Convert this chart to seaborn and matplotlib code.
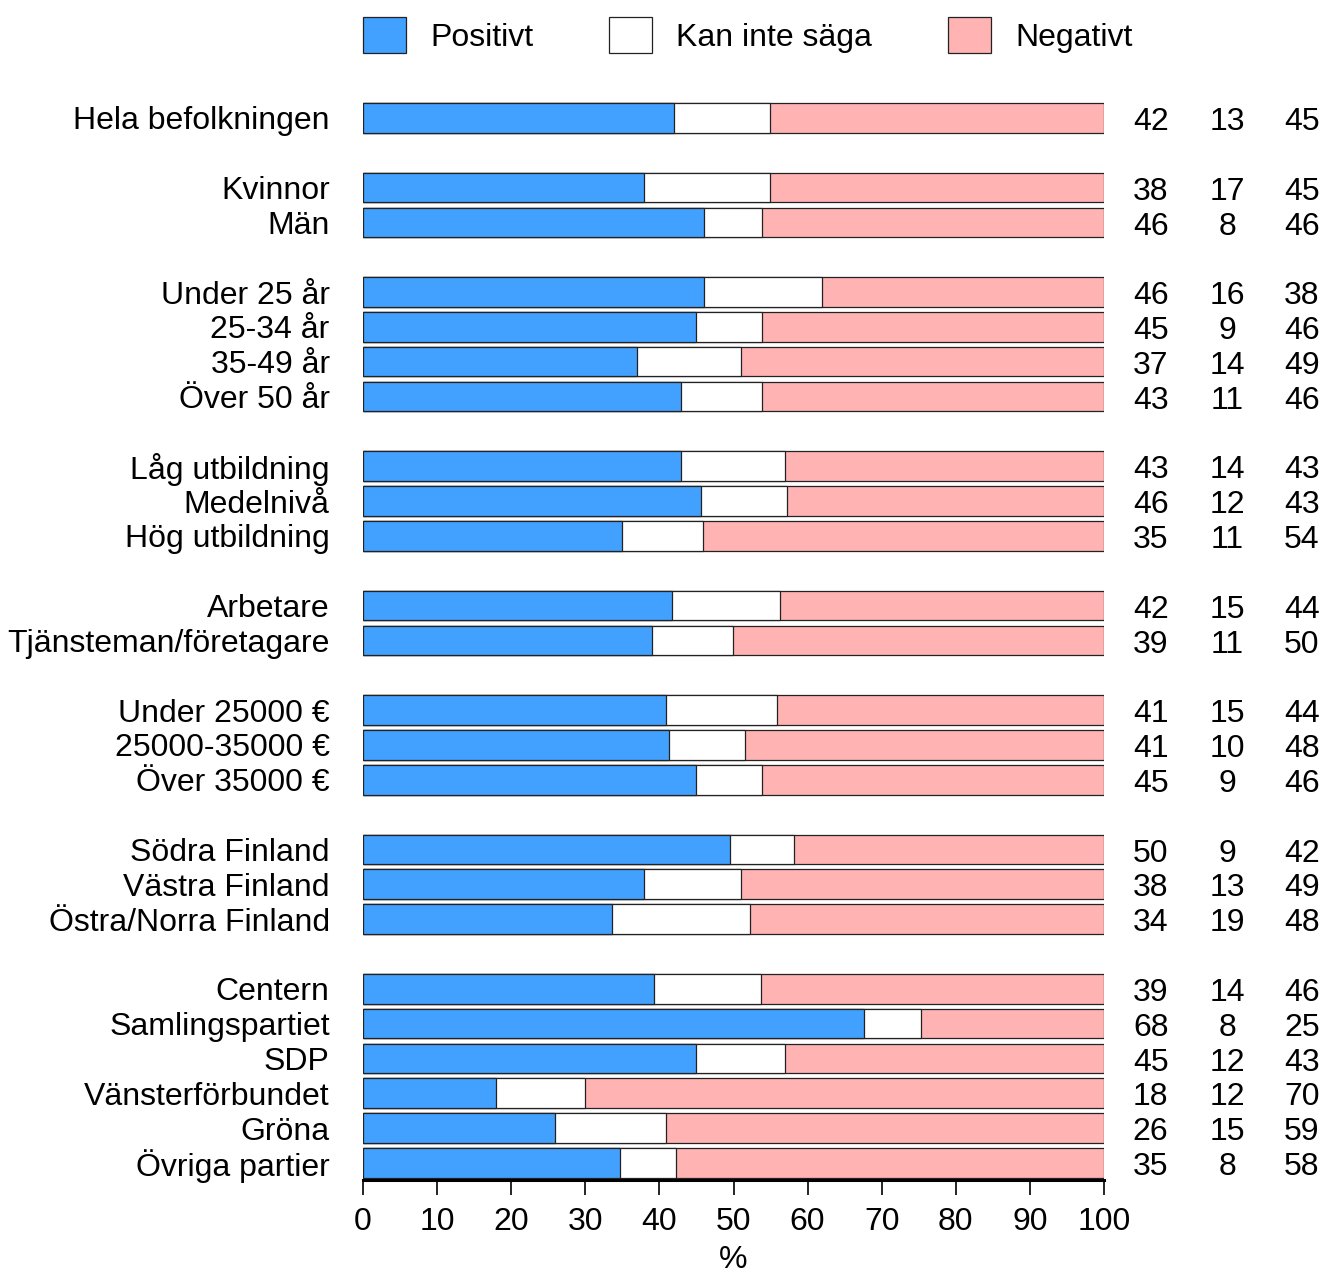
from matplotlib import pyplot as plt
from matplotlib.patches import Patch
import pandas as pd
import seaborn as sns
import numpy as np

# Rows of the chart, None marks an empty spacer row between groups
ROWS = [
    "Hela befolkningen", None,
    "Kvinnor", "Män", None,
    "Under 25 år", "25-34 år", "35-49 år", "Över 50 år", None,
    "Låg utbildning", "Medelnivå", "Hög utbildning", None,
    "Arbetare", "Tjänsteman/företagare", None,
    "Under 25000 €", "25000-35000 €", "Över 35000 €", None,
    "Södra Finland", "Västra Finland", "Östra/Norra Finland", None,
    "Centern", "Samlingspartiet", "SDP", "Vänsterförbundet", "Gröna", "Övriga partier",
]

# bar lengths (unrounded)
positive = [42.0, 37.9, 46.0, 46.0, 44.9, 37.0, 42.9, 42.9, 45.6, 35.0, 41.7, 39.0,
            40.9, 41.3, 44.9, 49.5, 37.9, 33.6, 39.3, 67.6, 44.9, 17.9, 25.9, 34.7]
cant_say = [12.9, 17.0, 7.8, 15.9, 8.9, 14.0, 10.9, 14.0, 11.6, 10.9, 14.6, 10.9,
            15.0, 10.3, 8.9, 8.7, 13.1, 18.6, 14.4, 7.7, 12.0, 12.1, 15.0, 7.5]

# printed numbers on the right
lbl_pos = [42, 38, 46, 46, 45, 37, 43, 43, 46, 35, 42, 39, 41, 41, 45, 50, 38, 34, 39, 68, 45, 18, 26, 35]
lbl_cant = [13, 17, 8, 16, 9, 14, 11, 14, 12, 11, 15, 11, 15, 10, 9, 9, 13, 19, 14, 8, 12, 12, 15, 8]
lbl_neg = [45, 45, 46, 38, 46, 49, 46, 43, 43, 54, 44, 50, 44, 48, 46, 42, 49, 48, 46, 25, 43, 70, 59, 58]

BLUE = "#42A0FF"
WHITE = "#FFFFFF"
PINK = "#FFB3B3"
FS = 23

sns.set_style("white")
plt.rcParams["font.family"] = ["Liberation Sans", "DejaVu Sans"]
plt.rcParams["text.color"] = "black"
plt.rcParams["axes.labelcolor"] = "black"
plt.rcParams["xtick.color"] = "black"
plt.rcParams["ytick.color"] = "black"

labels = [r for r in ROWS if r is not None]
ypos = [i for i, r in enumerate(ROWS) if r is not None]

df = pd.DataFrame({"label": labels, "y": ypos,
                   "pos": positive, "cant": cant_say})
df["cum"] = df["pos"] + df["cant"]
df["total"] = 100.0

fig = plt.figure(figsize=(13.22, 12.73), dpi=100)
ax = fig.add_axes([363 / 1322, 1 - 1180.4 / 1273, (1104 - 363) / 1322, 1080 / 1273])

# stacked look by drawing cumulative bars on top of each other
for col, color in [("total", PINK), ("cum", WHITE), ("pos", BLUE)]:
    sns.barplot(data=df, x=col, y="y", orient="h", native_scale=True,
                color=color, saturation=1, width=0.85,
                edgecolor="#222222", linewidth=0.9, ax=ax)

ax.set_xlim(0, 100)
ax.set_ylim(len(ROWS) - 0.5, -0.5)
ax.set_yticks(ypos, labels)
ax.set_xticks(np.arange(0, 101, 10))
ax.tick_params(axis="y", length=0, pad=24, labelsize=FS)
ax.tick_params(axis="x", length=11, width=1.2, direction="out", pad=8,
               labelsize=FS, bottom=True)
ax.set_xlabel("%", fontsize=FS, labelpad=6)
ax.set_ylabel("")
for side in ["top", "right", "left"]:
    ax.spines[side].set_visible(False)
ax.spines["bottom"].set_linewidth(2.2)
ax.spines["bottom"].set_color("black")

for y, a, b, c in zip(ypos, lbl_pos, lbl_cant, lbl_neg):
    for xx, v in zip([106.3, 116.6, 126.7], [a, b, c]):
        ax.text(xx, y + 0.12, str(v), ha="center", va="center",
                fontsize=FS, clip_on=False)

handles = [Patch(facecolor=BLUE, edgecolor="#222222", linewidth=0.9, label="Positivt"),
           Patch(facecolor=WHITE, edgecolor="#222222", linewidth=0.9, label="Kan inte säga"),
           Patch(facecolor=PINK, edgecolor="#222222", linewidth=0.9, label="Negativt")]
fig.legend(handles=handles, ncol=3, loc="center left",
           bbox_to_anchor=(363 / 1322, 1 - 35 / 1273), frameon=False,
           fontsize=FS, handlelength=1.35, handleheight=1.32,
           handletextpad=0.75, columnspacing=2.38, borderpad=0, borderaxespad=0)

fig.savefig("out.png", dpi=100)
